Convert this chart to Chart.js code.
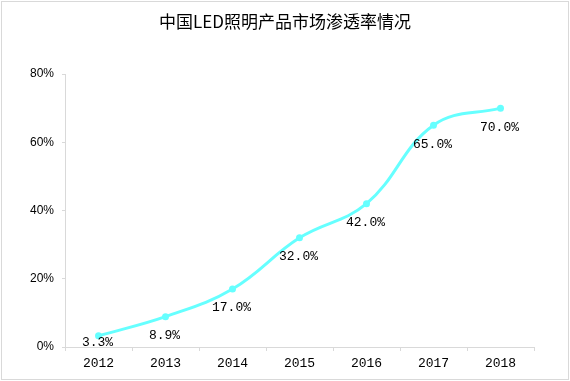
<!DOCTYPE html>
<html><head><meta charset="utf-8">
<script src="https://cdn.jsdelivr.net/npm/chart.js@4/dist/chart.umd.min.js"></script>
<style>html,body{margin:0;padding:0;background:#fff}#wrap{width:570px;height:381px;position:relative}</style>
</head><body><div id="wrap"><canvas id="c" width="570" height="381"></canvas></div>
<script>
const categories = ['2012','2013','2014','2015','2016','2017','2018'];
const penetration = [3.3, 8.9, 17.0, 32.0, 42.0, 65.0, 70.0];
const yTicks = [0, 20, 40, 60, 80];
const titleText = '中国LED照明产品市场渗透率情况';

const frame = {
  id: 'frame',
  beforeDraw(chart) {
    const ctx = chart.ctx;
    ctx.save();
    ctx.fillStyle = '#fff';
    ctx.fillRect(0, 0, chart.width, chart.height);
    ctx.strokeStyle = '#d9d9d9';
    ctx.lineWidth = 1;
    ctx.strokeRect(1.5, 1.5, chart.width - 3, chart.height - 3);
    ctx.fillStyle = '#000';
    ctx.font = '17px "Noto Sans CJK SC"';
    ctx.textAlign = 'center';
    ctx.textBaseline = 'middle';
    ctx.fillText(titleText, chart.width / 2, 22);
    ctx.restore();
  }
};
const labels = {
  id: 'labels',
  afterDatasetsDraw(chart) {
    const ctx = chart.ctx;
    const meta = chart.getDatasetMeta(0);
    ctx.save();
    ctx.fillStyle = '#000';
    ctx.font = '13px "Liberation Mono"';
    ctx.textAlign = 'center';
    ctx.textBaseline = 'middle';
    meta.data.forEach((p, i) => {
      const y = Math.min(p.y + 19, chart.chartArea.bottom - 4);
      ctx.fillText(penetration[i].toFixed(1) + '%', p.x - 1, y);
    });
    ctx.restore();
  }
};

new Chart(document.getElementById('c'), {
  type: 'line',
  data: {
    labels: categories,
    datasets: [{
      data: penetration,
      borderColor: '#66ffff',
      backgroundColor: '#66ffff',
      borderWidth: 3,
      tension: 0.4,
      pointRadius: 3.5,
      pointBorderWidth: 0,
      fill: false
    }]
  },
  options: {
    responsive: false,
    animation: false,
    layout: { padding: { top: 74, right: 36, bottom: 0, left: 0 } },
    plugins: { legend: { display: false }, title: { display: false }, tooltip: { enabled: false } },
    scales: {
      x: {
        offset: true,
        grid: { offset: true, drawOnChartArea: false, color: '#d9d9d9', tickLength: 4 },
        border: { color: '#d9d9d9' },
        ticks: { color: '#000', font: { family: 'Liberation Mono', size: 13 }, padding: 5, maxRotation: 0 },
        afterFit(s) { s.height = 34; }
      },
      y: {
        min: 0, max: 80,
        afterBuildTicks(s) { s.ticks = yTicks.map(v => ({ value: v })); },
        grid: { drawOnChartArea: false, color: '#d9d9d9', tickLength: 3 },
        border: { color: '#d9d9d9' },
        ticks: { color: '#000', font: { family: 'Liberation Sans', size: 12 }, padding: 8, callback: v => v + '%' },
        afterFit(s) { s.width = 65; }
      }
    }
  },
  plugins: [frame, labels]
});
</script></body></html>
